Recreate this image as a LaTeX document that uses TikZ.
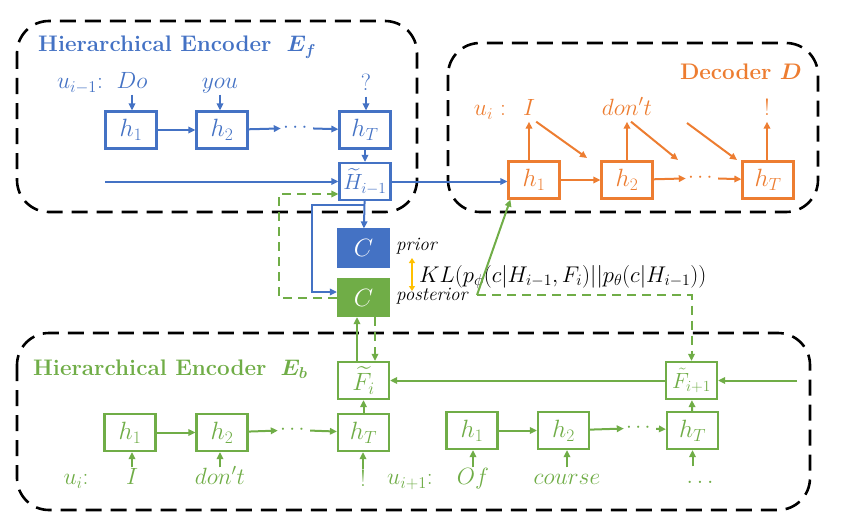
\RequirePackage{fix-cm}
\documentclass[tikz,border=0pt]{standalone}
\usepackage{amsmath,bm}
\usetikzlibrary{arrows.meta}
\definecolor{encblue}{HTML}{4472C4}
\definecolor{decorange}{HTML}{ED7D31}
\definecolor{encgreen}{HTML}{70AD47}
\definecolor{klgold}{HTML}{FFC000}
\tikzset{
  cell/.style={draw, line width=2.2pt, minimum width=51pt, minimum height=37pt, inner sep=0pt, font=\fontsize{25}{28}\selectfont},
  tight/.style={font=\fontsize{22}{26}\selectfont},
  word/.style={inner sep=1pt, text height=16pt, text depth=5pt, font=\fontsize{23.5}{27}\selectfont},
  dots/.style={inner sep=2pt, font=\fontsize{21}{25}\selectfont},
  title/.style={inner sep=0pt, font=\fontsize{22.5}{27}\selectfont\bfseries},
  note/.style={inner sep=0pt, anchor=west, font=\fontsize{19}{23}\selectfont\itshape},
  group/.style={draw=black, line width=2.6pt, dash pattern=on 16pt off 9pt, rounded corners=32pt},
  flow/.style={line width=2pt, -{Triangle[length=7pt,width=6.5pt]}},
  gdash/.style={dash pattern=on 9pt off 6pt},
}
\begin{document}
\begin{tikzpicture}[x=1pt,y=-1pt]
\useasboundingbox (0,0) rectangle (865,527);
% frames
\draw[group] (17,21) rectangle (417,212);
\draw[group] (448,43) rectangle (818,212);
\draw[group] (17,333) rectangle (810,510);

% forward encoder
\node[title, encblue, anchor=base west] (ftitle) at (38,52) {Hierarchical Encoder\hspace{15pt}$\bm{E_f}$};
\node[word, encblue] (fu) at (80,83) {$u_{i-1}$:};
\node[word, encblue] (fw1) at (132,83) {$Do$};
\node[word, encblue] (fw2) at (220,83) {$you$};
\node[word, encblue] (fw3) at (366,85) {$?$};
\node[cell, encblue] (fh1) at (131,130) {$h_1$};
\node[cell, encblue] (fh2) at (222,130) {$h_2$};
\node[dots, encblue] (fdots) at (297,128) {$\cdots$};
\node[cell, encblue] (fhT) at (365,130) {$h_T$};
\node[cell, tight, encblue] (fH) at (365,181.5) {$\widetilde{H}_{i-1}$};
\coordinate (fin) at (105,181.5);
\coordinate (fsplit) at (365,205);

\draw[flow, encblue] (fw1) -- (fw1 |- fh1.north);
\draw[flow, encblue] (fw2) -- (fw2 |- fh2.north);
\draw[flow, encblue] (fw3) -- (fw3 |- fhT.north);
\draw[flow, encblue] (fh1) -- (fh2);
\draw[flow, encblue] (fh2) -- (fdots);
\draw[flow, encblue] (fdots) -- (fhT);
\draw[flow, encblue] (fhT) -- (fH);
\draw[flow, encblue] (fin) -- (fH);

% decoder
\node[title, decorange, anchor=base east] (dtitle) at (802,80) {Decoder $\bm{D}$};
\node[word, decorange] (du) at (490,110) {$u_i$ :};
\node[word, decorange] (dw1) at (529,110) {$I$};
\node[word, decorange] (dw2) at (627,110) {$don't$};
\node[word, decorange] (dw3) at (767,110) {$!$};
\node[cell, decorange] (dh1) at (534,180) {$h_1$};
\node[cell, decorange] (dh2) at (627,180) {$h_2$};
\node[dots, decorange] (ddots) at (702,178) {$\cdots$};
\node[cell, decorange] (dhT) at (768,180) {$h_T$};
\coordinate (dd1) at (587,158);
\coordinate (dd2) at (678,160);
\coordinate (dd3s) at (687,123);
\coordinate (dd3) at (737,160);

\draw[flow, decorange] (dw1 |- dh1.north) -- (dw1);
\draw[flow, decorange] (dh2) -- (dw2);
\draw[flow, decorange] (dw3 |- dhT.north) -- (dw3);
\draw[flow, decorange] (dh1) -- (dh2);
\draw[flow, decorange] (dh2) -- (ddots);
\draw[flow, decorange] (ddots) -- (dhT);
\draw[flow, decorange] (dw1.south east) -- (dd1);
\draw[flow, decorange] ([xshift=4pt]dw2.south) -- (dd2);
\draw[flow, decorange] (dd3s) -- (dd3);
\draw[flow, encblue] (fH.east) -- (fH.east -| dh1.west);

% latent variable
\node[cell, encblue, fill=encblue, text=white] (cprior) at (363.5,248) {$C$};
\node[cell, encgreen, fill=encgreen, text=white] (cpost) at (363.5,297.5) {$C$};
\node[note] (lprior) at (396,246) {prior};
\node[note] (lpost) at (396,296) {posterior};
\node[anchor=west, inner sep=0pt, font=\fontsize{22.7}{26}\selectfont] (kl) at (419,277) {$KL(p_\phi(c|H_{i-1},F_i)||p_\theta(c|H_{i-1}))$};
\coordinate (klup) at (412,258);
\coordinate (kldn) at (412,291);
\draw[klgold, line width=1.5pt, {Triangle[length=5pt,width=6pt]}-{Triangle[length=5pt,width=6pt]}] (klup) -- (kldn);

\draw[flow, encblue] (fH) -- (cprior);
\draw[flow, encblue] (fsplit) -- ++(-53,0) |- ([yshift=5.5pt]cpost.west);
\draw[flow, encgreen, gdash] (cpost.west) -- ++(-58,0) |- ([yshift=-12.5pt]fH.west);

% backward encoder
\node[title, encgreen, anchor=base west] (btitle) at (33,375) {Hierarchical Encoder\hspace{14pt}$\bm{E_b}$};
\node[cell, encgreen] (bFi) at (363.5,380.5) {$\widetilde{F}_i$};
\node[cell, tight, encgreen] (bF1) at (691.5,380.5) {$\tilde{F}_{i+1}$};
\node[cell, encgreen] (bh1) at (130,432.5) {$h_1$};
\node[cell, encgreen] (bh2) at (222,432.5) {$h_2$};
\node[dots, encgreen] (bdots) at (294,430) {$\cdots$};
\node[cell, encgreen] (bhT) at (363.5,432.5) {$h_T$};
\node[cell, encgreen] (ch1) at (472,430.5) {$h_1$};
\node[cell, encgreen] (ch2) at (563.5,430.5) {$h_2$};
\node[dots, encgreen] (cdots) at (640,428) {$\cdots$};
\node[cell, encgreen] (chT) at (692.5,430.5) {$h_T$};
\node[word, encgreen] (bu) at (76,479) {$u_i$:};
\node[word, encgreen] (bw1) at (132,479) {$I$};
\node[word, encgreen] (bw2) at (220,479) {$don't$};
\node[word, encgreen] (bw3) at (363,481) {$!$};
\node[word, encgreen] (cu) at (410,479) {$u_{i+1}$:};
\node[word, encgreen] (cw1) at (473,479) {$Of$};
\node[word, encgreen] (cw2) at (567,479) {$course$};
\node[word, encgreen] (cw3) at (700,478) {$\ldots$};
\coordinate (bin) at (797,380.5);
\coordinate (kn) at (477,295);

\draw[flow, encgreen] (bw1) -- (bw1 |- bh1.south);
\draw[flow, encgreen] (bw2) -- (bw2 |- bh2.south);
\draw[flow, encgreen] (bw3) -- (bw3 |- bhT.south);
\draw[flow, encgreen] (cw1) -- (cw1 |- ch1.south);
\draw[flow, encgreen] (cw2) -- (cw2 |- ch2.south);
\draw[flow, encgreen] (cw3.north -| chT.south) -- (chT.south);
\draw[flow, encgreen] (bh1) -- (bh2);
\draw[flow, encgreen] (bh2) -- (bdots);
\draw[flow, encgreen] (bdots) -- (bhT);
\draw[flow, encgreen] (bhT) -- (bFi);
\draw[flow, encgreen] (ch1) -- (ch2);
\draw[flow, encgreen] (ch2) -- (cdots);
\draw[flow, encgreen] (cdots) -- (chT);
\draw[flow, encgreen] (chT) -- (bF1);
\draw[flow, encgreen] (bin) -- (bF1);
\draw[flow, encgreen] (bF1) -- (bFi);
\draw[flow, encgreen] ([xshift=-6.5pt]bFi.north) -- ([xshift=-6.5pt]cpost.south);
\draw[flow, encgreen, gdash] ([xshift=11.5pt]cpost.south) -- ([xshift=11.5pt]bFi.north);
\draw[flow, encgreen] (kn) -- ([xshift=3pt]dh1.south west);
\draw[flow, encgreen, gdash] (kn) -| (bF1.north);
\end{tikzpicture}
\end{document}
